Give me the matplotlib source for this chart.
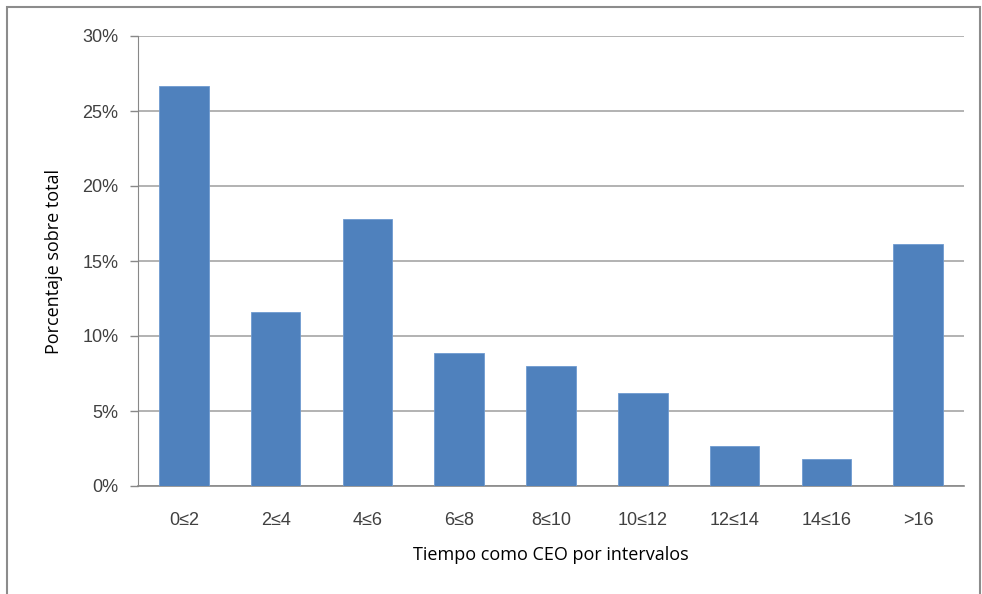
import matplotlib.pyplot as plt
from matplotlib.patches import Rectangle

categories = ['0≤2', '2≤4', '4≤6', '6≤8', '8≤10', '10≤12', '12≤14', '14≤16', '>16']
percent = [26.7, 11.6, 17.8, 8.9, 8.0, 6.2, 2.7, 1.8, 16.1]
y_ticks = [0, 5, 10, 15, 20, 25, 30]

fig = plt.figure(figsize=(9.82, 5.94), dpi=100)
W, H = 982, 594
ax = fig.add_axes([138 / W, 1 - 486 / H, (964 - 138) / W, (486 - 36) / H])

x = list(range(len(categories)))
ax.bar(x, percent, width=0.54, color='#4f81bd', edgecolor='#6f9bd0', linewidth=0.6, zorder=3)

ax.set_xlim(-0.5, len(categories) - 0.5)
ax.set_ylim(0, 30)
ax.set_yticks(y_ticks)
ax.set_yticklabels([f'{v}%' for v in y_ticks], fontfamily='Liberation Sans', fontsize=13, color='#404040')
ax.set_xticks(x)
ax.set_xticklabels(categories, fontfamily='Liberation Sans', fontsize=13, color='#404040')
ax.tick_params(axis='x', length=0, pad=19)
ax.tick_params(axis='y', length=6, width=1, color='#888888', pad=8)
ax.yaxis.grid(True, color='#a6a6a6', linewidth=1.2, zorder=0)
ax.set_axisbelow(True)

for side in ['top', 'right']:
    ax.spines[side].set_visible(False)
ax.spines['left'].set_color('#888888')
ax.spines['bottom'].set_color('#888888')
ax.spines['bottom'].set_linewidth(1.2)

ax.set_xlabel('Tiempo como CEO por intervalos', fontfamily='Open Sans', fontsize=13, labelpad=12)
ax.set_ylabel('Porcentaje sobre total', fontfamily='Open Sans', fontsize=13, labelpad=14)

# outer frame around the chart area
fig.patches.append(Rectangle((7 / W, -0.05), (980 - 7) / W, 1.05 - 7 / H,
                             transform=fig.transFigure, fill=False,
                             edgecolor='#8c8c8c', linewidth=1.5))

fig.savefig('out.png', dpi=100)
